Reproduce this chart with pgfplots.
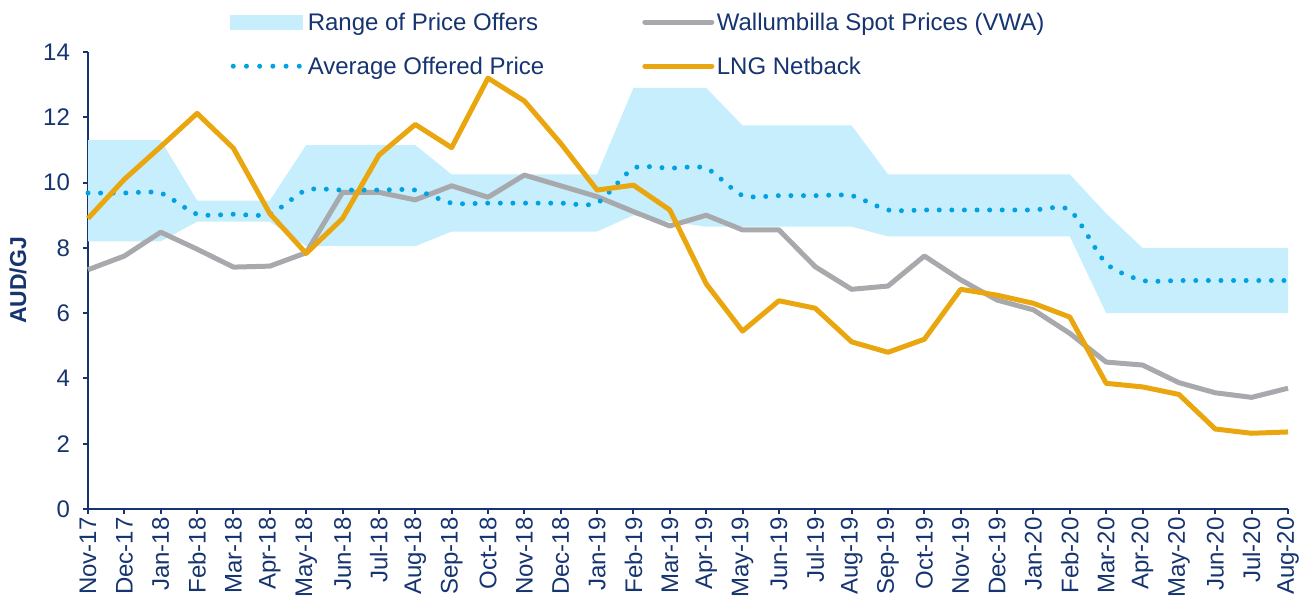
\documentclass[border=0pt]{standalone}
\usepackage{pgfplots}
\pgfplotsset{compat=1.18}
\usepgfplotslibrary{fillbetween}
\usepackage{fontspec}
\setmainfont{Liberation Sans}
\definecolor{navy}{RGB}{22,52,112}
\definecolor{rangec}{RGB}{198,238,252}
\definecolor{avgc}{RGB}{0,162,226}
\definecolor{grayc}{RGB}{168,169,173}
\definecolor{lngc}{RGB}{234,166,14}
\begin{document}
\begin{tikzpicture}
\begin{axis}[
  name=ax,
  scale only axis,
  width=600pt, height=228.5pt,
  xmin=0, xmax=33, ymin=0, ymax=14,
  clip=false,
  axis x line*=bottom, axis y line*=left,
  axis line style={navy, line width=1pt, -},
  tick style={navy, line width=1pt},
  tick align=outside,
  major tick length=2.5pt,
  xtick={0,...,33},
  xticklabels={Nov-17,Dec-17,Jan-18,Feb-18,Mar-18,Apr-18,May-18,Jun-18,Jul-18,Aug-18,Sep-18,Oct-18,Nov-18,Dec-18,Jan-19,Feb-19,Mar-19,Apr-19,May-19,Jun-19,Jul-19,Aug-19,Sep-19,Oct-19,Nov-19,Dec-19,Jan-20,Feb-20,Mar-20,Apr-20,May-20,Jun-20,Jul-20,Aug-20},
  xticklabel style={rotate=90, anchor=east, font=\fontsize{12}{14}\selectfont, text=navy, inner sep=1.5pt},
  ytick={0,2,...,14},
  yticklabel style={font=\fontsize{12}{14}\selectfont, text=navy, xshift=-3pt},
  /pgf/number format/assume math mode=true,
  ylabel={AUD/GJ},
  ylabel style={at={(axis description cs:-0.0583,0.5)}, anchor=center, font=\bfseries\fontsize{11.5}{13}\selectfont, text=navy},
  legend columns=2,
  legend style={at={(axis description cs:0.1183,1.0853)}, anchor=north west, draw=none, fill=none, inner sep=0pt,
    row sep=13.5pt,
    nodes={inner sep=0pt, text height=8.6pt, text depth=0pt, text=navy, font=\fontsize{12}{14}\selectfont},
    /tikz/every odd column/.style={column sep=1.25pt},
    /tikz/every even column/.style={column sep=49pt}},
  legend cell align=left,
]
\addlegendimage{legend image code/.code={\fill[rangec] (0pt,-3.5pt) rectangle (36pt,3.5pt);}}
\addlegendentry{Range of Price Offers}
\addlegendimage{legend image code/.code={\draw[grayc, line width=2.5pt, line cap=round] (1.25pt,0pt) -- (34.75pt,0pt);}}
\addlegendentry{Wallumbilla Spot Prices (VWA)}
\addlegendimage{legend image code/.code={\draw[avgc, line width=2.5pt, line cap=round, dash pattern=on 0pt off 6.6pt] (1.25pt,0pt) -- (36pt,0pt);}}
\addlegendentry{Average Offered Price}
\addlegendimage{legend image code/.code={\draw[lngc, line width=2.5pt, line cap=round] (1.25pt,0pt) -- (34.75pt,0pt);}}
\addlegendentry{LNG Netback}

% Range of price offers
\addplot[draw=none, name path=up, forget plot] coordinates {
(0,11.3)(1,11.3)(2,11.3)(3,9.45)(4,9.45)(5,9.45)(6,11.15)(7,11.15)(8,11.15)(9,11.15)
(10,10.25)(11,10.25)(12,10.25)(13,10.25)(14,10.25)(15,12.9)(16,12.9)(17,12.9)
(18,11.75)(19,11.75)(20,11.75)(21,11.75)(22,10.25)(23,10.25)(24,10.25)(25,10.25)(26,10.25)(27,10.25)
(28,9.05)(29,8.0)(30,8.0)(31,8.0)(32,8.0)(33,8.0)};
\addplot[draw=none, name path=lo, forget plot] coordinates {
(0,8.2)(1,8.2)(2,8.2)(3,8.8)(4,8.8)(5,8.8)(6,8.05)(7,8.05)(8,8.05)(9,8.05)
(10,8.5)(11,8.5)(12,8.5)(13,8.5)(14,8.5)(15,9.0)(16,8.8)(17,8.65)
(18,8.65)(19,8.65)(20,8.65)(21,8.65)(22,8.35)(23,8.35)(24,8.35)(25,8.35)(26,8.35)(27,8.35)
(28,6.0)(29,6.0)(30,6.0)(31,6.0)(32,6.0)(33,6.0)};
\addplot[rangec, forget plot] fill between[of=up and lo];

% Wallumbilla spot prices
\addplot[grayc, line width=2.5pt, line join=round, forget plot] coordinates {
(0,7.33)(1,7.75)(2,8.48)(3,7.96)(4,7.41)(5,7.44)(6,7.85)(7,9.7)(8,9.7)(9,9.47)
(10,9.9)(11,9.55)(12,10.23)(13,9.9)(14,9.57)(15,9.11)(16,8.67)(17,9.0)(18,8.55)(19,8.55)
(20,7.42)(21,6.73)(22,6.83)(23,7.75)(24,7.02)(25,6.4)(26,6.1)(27,5.38)(28,4.5)(29,4.41)
(30,3.87)(31,3.56)(32,3.42)(33,3.7)};

% Average offered price
\addplot[avgc, line width=2.5pt, line cap=round, dash pattern=on 0pt off 6.3pt, smooth, tension=0.4, forget plot] coordinates {
(0,9.68)(1,9.68)(2,9.68)(3,9.03)(4,9.03)(5,9.03)(6,9.77)(7,9.77)(8,9.77)(9,9.77)
(10,9.37)(11,9.37)(12,9.37)(13,9.37)(14,9.37)(15,10.44)(16,10.44)(17,10.44)
(18,9.6)(19,9.6)(20,9.6)(21,9.6)(22,9.16)(23,9.16)(24,9.16)(25,9.16)(26,9.16)(27,9.16)
(28,7.52)(29,7.0)(30,7.0)(31,7.0)(32,7.0)(33,7.0)};

% LNG netback
\addplot[lngc, line width=2.5pt, line join=round, forget plot] coordinates {
(0,8.9)(1,10.1)(2,11.1)(3,12.12)(4,11.05)(5,9.05)(6,7.83)(7,8.9)(8,10.84)(9,11.78)
(10,11.07)(11,13.2)(12,12.5)(13,11.2)(14,9.77)(15,9.92)(16,9.16)(17,6.9)(18,5.45)(19,6.38)
(20,6.15)(21,5.12)(22,4.8)(23,5.2)(24,6.73)(25,6.55)(26,6.3)(27,5.88)(28,3.85)(29,3.74)
(30,3.51)(31,2.45)(32,2.32)(33,2.36)};

\coordinate (bl) at (rel axis cs:0,0);
\end{axis}
\pgfresetboundingbox
\path[use as bounding box] ([shift={(-44pt,-45pt)}]bl) rectangle ++(656pt,299.5pt);
\end{tikzpicture}
\end{document}
